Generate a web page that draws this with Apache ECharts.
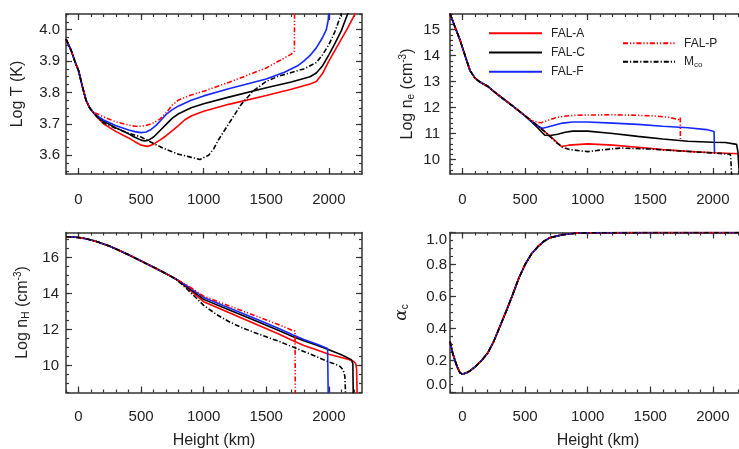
<!DOCTYPE html>
<html><head><meta charset="utf-8">
<script src="https://cdn.jsdelivr.net/npm/echarts@6/dist/echarts.min.js"></script>
<style>html,body{margin:0;padding:0;background:#fff}#c{width:739px;height:449px}</style>
</head><body><div id="c"></div>
<script>
// ---------------- data ----------------
const heightTicks = [0, 500, 1000, 1500, 2000];
const tempTicks = [3.6, 3.7, 3.8, 3.9, 4.0];
const neTicks = [10, 11, 12, 13, 14, 15];
const nhTicks = [10, 12, 14, 16];
const alphaTicks = [0.0, 0.2, 0.4, 0.6, 0.8, 1.0];
const modelNames = ['FAL-A', 'FAL-C', 'FAL-F', 'FAL-P', 'Mco'];

// Panel 1: Log T (K)
const tempCommon = [[-100,3.97],[-60,3.935],[-30,3.9],[0,3.87],[30,3.82],[60,3.775],[90,3.75],[120,3.735]];
const tempA = [[150,3.72],[200,3.70],[300,3.675],[400,3.655],[450,3.643],[500,3.632],[550,3.628],[600,3.635],[650,3.648],[700,3.662],[750,3.678],[800,3.695],[850,3.713],[900,3.725],[1000,3.74],[1200,3.762],[1500,3.79],[1700,3.81],[1850,3.827],[1900,3.835],[1950,3.86],[2000,3.9],[2050,3.935],[2100,3.97],[2150,4.005],[2200,4.043],[2220,4.06]];
const tempC = [[150,3.722],[200,3.708],[300,3.687],[400,3.668],[450,3.657],[500,3.648],[530,3.645],[560,3.648],[600,3.658],[650,3.678],[700,3.698],[750,3.718],[800,3.732],[900,3.751],[1000,3.764],[1200,3.785],[1500,3.815],[1700,3.833],[1850,3.85],[1900,3.862],[1950,3.885],[2000,3.92],[2050,3.957],[2100,3.997],[2150,4.05],[2160,4.06]];
const tempF = [[150,3.725],[200,3.712],[300,3.694],[400,3.68],[450,3.675],[500,3.672],[540,3.674],[580,3.682],[620,3.695],[660,3.712],[700,3.73],[750,3.745],[800,3.757],[900,3.775],[1000,3.789],[1200,3.812],[1500,3.843],[1650,3.865],[1750,3.885],[1800,3.9],[1850,3.918],[1900,3.942],[1950,3.975],[1980,4.0],[1995,4.03],[2000,4.06]];
const tempP = [[150,3.732],[200,3.722],[300,3.706],[400,3.696],[450,3.692],[500,3.692],[550,3.696],[600,3.703],[650,3.715],[700,3.735],[750,3.76],[800,3.776],[900,3.792],[1000,3.804],[1200,3.832],[1500,3.878],[1600,3.9],[1700,3.922],[1725,3.932],[1726,4.06]];
const tempM = [[150,3.722],[200,3.703],[300,3.685],[400,3.67],[500,3.658],[600,3.637],[700,3.618],[800,3.603],[900,3.593],[970,3.586],[1040,3.6],[1080,3.62],[1120,3.65],[1200,3.7],[1300,3.762],[1400,3.806],[1500,3.835],[1600,3.852],[1800,3.875],[1900,3.895],[1950,3.92],[2000,3.952],[2050,3.995],[2090,4.04],[2105,4.06]];

// Panel 2: Log n_e
const neCommon = [[-100,15.62],[-60,15.1],[-20,14.6],[20,14.0],[60,13.42],[100,13.13],[140,12.98],[200,12.82],[275,12.52],[400,12.06],[500,11.68]];
const neA = [[550,11.48],[600,11.3],[650,11.1],[700,10.9],[750,10.68],[790,10.5],[850,10.55],[1000,10.6],[1200,10.55],[1400,10.47],[1600,10.38],[1800,10.31],[2000,10.26],[2260,10.21]];
const neC = [[550,11.45],[600,11.22],[640,11.02],[660,10.93],[700,10.92],[760,10.97],[820,11.05],[880,11.09],[1000,11.09],[1200,11.0],[1400,10.89],[1600,10.79],[1800,10.7],[2000,10.66],[2100,10.65],[2190,10.58],[2200,10.3],[2205,9.9],[2210,9.6],[2215,9.4]];
const neF = [[540,11.5],[580,11.35],[620,11.24],[640,11.2],[680,11.25],[740,11.33],[800,11.4],[880,11.44],[1000,11.44],[1200,11.4],[1400,11.35],[1600,11.28],[1800,11.22],[1950,11.15],[2010,11.08],[2013,10.3],[2015,10.25]];
const neP = [[520,11.6],[560,11.5],[600,11.43],[630,11.41],[680,11.5],[740,11.6],[800,11.66],[900,11.7],[1000,11.71],[1200,11.72],[1400,11.7],[1550,11.67],[1650,11.62],[1720,11.54],[1738,11.52],[1740,11.65],[1741,10.76]];
const neM = [[550,11.48],[600,11.3],[650,11.1],[700,10.88],[750,10.65],[800,10.47],[860,10.38],[1000,10.3],[1100,10.36],[1265,10.44],[1500,10.4],[1700,10.34],[1900,10.28],[2000,10.25],[2140,10.2],[2145,9.9],[2150,9.4]];

// Panel 3: Log n_H
const nhCommon = [[-100,17.16],[-50,17.15],[0,17.12],[50,17.07],[100,16.98],[150,16.88],[200,16.76],[250,16.63],[300,16.48],[400,16.16],[500,15.81],[600,15.47],[700,15.11],[780,14.8]];
const nhA = [[860,14.36],[1000,13.55],[1200,12.95],[1400,12.35],[1600,11.75],[1710,11.39],[1800,11.12],[1900,10.88],[2000,10.63],[2100,10.45],[2160,10.33],[2200,10.22],[2215,10.1],[2222,9.8],[2226,8.4]];
const nhC = [[860,14.42],[1000,13.68],[1200,13.1],[1400,12.53],[1600,11.95],[1710,11.62],[1800,11.38],[1900,11.14],[1990,10.9],[2100,10.6],[2180,10.33],[2192,10.1],[2195,8.4]];
const nhF = [[860,14.46],[1000,13.79],[1200,13.22],[1400,12.65],[1600,12.06],[1710,11.71],[1800,11.45],[1900,11.2],[1990,10.95],[1995,8.4]];
const nhP = [[860,14.5],[1000,13.86],[1200,13.33],[1400,12.8],[1600,12.27],[1710,11.95],[1730,11.92],[1732,8.4]];
const nhM = [[860,14.3],[1000,13.35],[1100,12.85],[1200,12.45],[1300,12.12],[1400,11.85],[1500,11.6],[1600,11.35],[1710,11.04],[1800,10.78],[1900,10.5],[1990,10.22],[2050,10.08],[2090,9.95],[2115,9.75],[2128,9.4],[2134,8.4]];

// Panel 4: alpha_c (all models nearly identical)
const alphaAll = [[-100,0.32],[-80,0.25],[-60,0.2],[-40,0.155],[-20,0.123],[0,0.115],[30,0.122],[60,0.135],[100,0.16],[150,0.198],[200,0.245],[250,0.32],[300,0.415],[350,0.51],[400,0.61],[450,0.715],[500,0.8],[550,0.865],[600,0.91],[650,0.945],[700,0.968],[800,0.986],[900,0.995],[1000,0.998],[1500,1.0],[2265,1.0]];

// ---------------- styling / layout ----------------
const FONT = '"Liberation Sans", Arial, Helvetica, sans-serif';
const TXT = '#222';
const AXC = '#333';
const styles = {
  'FAL-A': {color:'#ff0000', type:'solid'},
  'FAL-C': {color:'#000000', type:'solid'},
  'FAL-F': {color:'#1428ff', type:'solid'},
  'FAL-P': {color:'#ff0000', type:[5,2,1.2,2,1.2,2]},
  'Mco':   {color:'#000000', type:[5,2,1.2,2]}
};
const grids = [
  {left:66, top:14, width:296, height:160, outerBoundsMode:'none', containLabel:false},
  {left:450, top:14, width:296, height:160, outerBoundsMode:'none', containLabel:false},
  {left:66, top:232.5, width:296, height:160, outerBoundsMode:'none', containLabel:false},
  {left:450, top:232.5, width:296, height:160, outerBoundsMode:'none', containLabel:false}
];
const xRange = [-100, 2265];
const yCfg = [
  {min:3.54, max:4.05, ticks:tempTicks, minorStep:0.025, name:'Log T (K)', gap:40, margin:6},
  {min:9.44, max:15.6, ticks:neTicks, minorStep:0.2, name:'Log n{sub|e} (cm{sup|-3})', gap:33, margin:10},
  {min:8.5, max:17.4, ticks:nhTicks, minorStep:0.5, name:'Log n{sub|H} (cm{sup|-3})', gap:34, margin:7},
  {min:0, max:1.0, ticks:alphaTicks, minorStep:0.05, name:'{al|α}{sub|c}', gap:40, margin:3}
];
const panelData = [
  [tempA,tempC,tempF,tempP,tempM].map(d=>tempCommon.concat(d)),
  [neA,neC,neF,neP,neM].map(d=>neCommon.concat(d)),
  [nhA,nhC,nhF,nhP,nhM].map(d=>nhCommon.concat(d)),
  [alphaAll,alphaAll,alphaAll,alphaAll,alphaAll]
];

function steps(min, max, step) {
  const out = [];
  for (let k = Math.ceil(min/step - 1e-9); k*step <= max + 1e-9; k++) out.push(+(k*step).toFixed(4));
  return out;
}
const nameRich = {
  sub:{fontSize:10, fontFamily:FONT, color:TXT, padding:[7,0,0,0]},
  sup:{fontSize:10, fontFamily:FONT, color:TXT, padding:[0,0,9,0]},
  al:{fontSize:17, fontFamily:'"DejaVu Serif", serif', fontStyle:'italic', color:TXT}
};

const xAxis = [], yAxis = [], series = [];
grids.forEach((g, p) => {
  const bottom = p >= 2;
  const minorX = steps(xRange[0], xRange[1], 100);
  const baseX = {type:'value', gridIndex:p, min:xRange[0], max:xRange[1], splitLine:{show:false},
    axisLine:{show:false, onZero:false}, axisLabel:{show:false}};
  const tickStyle = {color:AXC, width:1.2};
  xAxis.push(Object.assign({}, baseX, {position:'bottom',
    axisLine:{show:true, onZero:false, lineStyle:{color:AXC, width:1.5}},
    axisTick:{show:true, inside:true, length:6, customValues:heightTicks, lineStyle:tickStyle},
    axisLabel:{show:true, customValues:heightTicks, margin:bottom?17:18, fontSize:15, color:TXT, fontFamily:FONT,
      formatter: v => String(v)},
    name: bottom ? 'Height (km)' : '', nameLocation:'middle', nameGap:40,
    nameTextStyle:{fontSize:16, color:TXT, fontFamily:FONT}}));
  xAxis.push(Object.assign({}, baseX, {position:'bottom', axisTick:{show:true, inside:true, length:3, customValues:minorX, lineStyle:tickStyle}}));
  xAxis.push(Object.assign({}, baseX, {position:'top',
    axisLine:{show:true, onZero:false, lineStyle:{color:AXC, width:1.5}},
    axisTick:{show:true, inside:true, length:6, customValues:heightTicks, lineStyle:tickStyle}}));
  xAxis.push(Object.assign({}, baseX, {position:'top', axisTick:{show:true, inside:true, length:3, customValues:minorX, lineStyle:tickStyle}}));

  const c = yCfg[p];
  const minorY = steps(c.min, c.max, c.minorStep);
  const baseY = {type:'value', gridIndex:p, min:c.min, max:c.max, splitLine:{show:false},
    axisLine:{show:false, onZero:false}, axisLabel:{show:false}};
  const lab = {show:true, customValues:c.ticks, margin:c.margin, fontSize:15, color:TXT, fontFamily:FONT,
    formatter: v => (p === 0 || p === 3) ? v.toFixed(1) : String(Math.round(v))};
  if (p === 3) { lab.verticalAlignMinLabel = 'bottom'; lab.verticalAlignMaxLabel = 'top'; }
  yAxis.push(Object.assign({}, baseY, {position:'left',
    axisLine:{show:true, onZero:false, lineStyle:{color:AXC, width:1.5}},
    axisTick:{show:true, inside:true, length:6, customValues:c.ticks, lineStyle:tickStyle},
    axisLabel:lab,
    name:c.name, nameLocation:'middle', nameRotate:90, nameGap:c.gap,
    nameTextStyle:{fontSize:16, color:TXT, fontFamily:FONT, rich:nameRich}}));
  yAxis.push(Object.assign({}, baseY, {position:'left', axisTick:{show:true, inside:true, length:3, customValues:minorY, lineStyle:tickStyle}}));
  yAxis.push(Object.assign({}, baseY, {position:'right',
    axisLine:{show:true, onZero:false, lineStyle:{color:AXC, width:1.5}},
    axisTick:{show:true, inside:true, length:6, customValues:c.ticks, lineStyle:tickStyle}}));
  yAxis.push(Object.assign({}, baseY, {position:'right', axisTick:{show:true, inside:true, length:3, customValues:minorY, lineStyle:tickStyle}}));

  modelNames.forEach((m, i) => {
    const s = styles[m];
    series.push({type:'line', name:m, xAxisIndex:p*4, yAxisIndex:p*4, data:panelData[p][i],
      symbol:'none', showSymbol:false, smooth:false, color:s.color, z: 2 + i,
      lineStyle:{color:s.color, width:1.6, type:s.type}, emphasis:{disabled:true}});
  });
});

const legendText = {fontSize:12, color:TXT, fontFamily:FONT, padding:[0,0,0,4],
  rich:{m:{fontSize:12, color:TXT, fontFamily:FONT}, s:{fontSize:8, color:TXT, fontFamily:FONT, padding:[6,0,0,0]}}};
const legendFmt = n => n === 'Mco' ? '{m|M}{s|co}' : n;
const hideSym = {color:'rgba(0,0,0,0)', borderWidth:0, borderColor:'rgba(0,0,0,0)', opacity:0};

const chart = echarts.init(document.getElementById('c'), null, {renderer:'canvas'});
chart.setOption({
  animation:false,
  backgroundColor:'#fff',
  grid:grids,
  xAxis:xAxis,
  yAxis:yAxis,
  legend:[
    {data:['FAL-A','FAL-C','FAL-F'], orient:'vertical', left:488, top:27.3, padding:0, itemWidth:53, itemHeight:12, itemGap:7.2,
     textStyle:legendText, formatter:legendFmt, selectedMode:false, itemStyle:hideSym},
    {data:['FAL-P','Mco'], orient:'vertical', left:622, top:37.3, padding:0, itemWidth:52, itemHeight:12, itemGap:6.4,
     textStyle:legendText, formatter:legendFmt, selectedMode:false, itemStyle:hideSym}
  ],
  series:series
});
</script></body></html>
